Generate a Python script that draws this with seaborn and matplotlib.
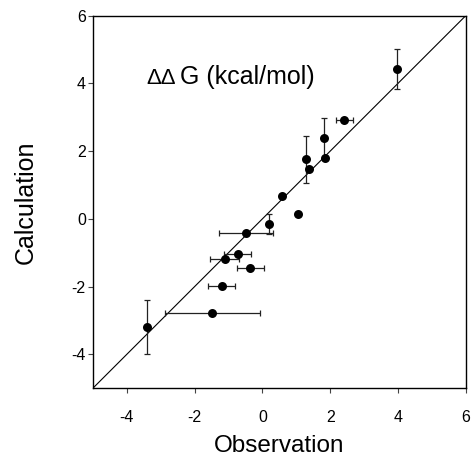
import numpy as np
import pandas as pd
import matplotlib
matplotlib.use("Agg")
import matplotlib.pyplot as plt
import seaborn as sns

# Data
observation = [3.97, 2.41, 1.81, 1.85, 1.28, 1.37, 0.59, 1.06, 0.20, -0.48,
               -0.72, -1.11, -0.35, -1.20, -1.47, -3.41]
calculation = [4.42, 2.91, 2.38, 1.80, 1.76, 1.46, 0.69, 0.13, -0.16, -0.42,
               -1.03, -1.19, -1.45, -1.98, -2.79, -3.20]
obs_err = [0, 0.25, 0, 0, 0, 0, 0, 0, 0, 0.80,
           0.40, 0.42, 0.40, 0.39, 1.40, 0]
calc_err = [0.60, 0, 0.60, 0, 0.70, 0, 0, 0, 0.30, 0,
            0, 0, 0, 0, 0, 0.80]
ticks = [-4, -2, 0, 2, 4, 6]

df = pd.DataFrame({"Observation": observation, "Calculation": calculation,
                   "xerr": obs_err, "yerr": calc_err})

sns.set_theme(style="white")
plt.rcParams["font.family"] = ["Liberation Sans", "DejaVu Sans"]

fig = plt.figure(figsize=(4.71, 4.59), dpi=100)
ax = fig.add_axes([0.197, 0.154, 0.792, 0.812])

lims = (-5, 6)
ax.plot(lims, lims, color="black", lw=0.8, zorder=1)

dx = df[df["xerr"] > 0]
ax.errorbar(dx["Observation"], dx["Calculation"], xerr=dx["xerr"], fmt="none",
            ecolor="#222222", elinewidth=0.9, capsize=2.5, capthick=0.9, zorder=2)
dy = df[df["yerr"] > 0]
ax.errorbar(dy["Observation"], dy["Calculation"], yerr=dy["yerr"], fmt="none",
            ecolor="#222222", elinewidth=0.9, capsize=2.5, capthick=0.9, zorder=2)

sns.scatterplot(data=df, x="Observation", y="Calculation", ax=ax, color="black",
                s=42, edgecolor="black", linewidth=0, zorder=3)

ax.set_xlim(*lims)
ax.set_ylim(*lims)
ax.set_xticks(ticks)
ax.set_yticks(ticks)
ax.set_xticklabels([str(t) for t in ticks])
ax.set_yticklabels([str(t) for t in ticks])
ax.tick_params(axis="both", which="major", direction="out", length=3.5, width=0.8,
               color="#444444", labelsize=11.5, labelcolor="black",
               bottom=True, left=True, top=False, right=False)
ax.tick_params(axis="x", pad=12)
ax.tick_params(axis="y", pad=1.5)
for sp in ax.spines.values():
    sp.set_color("black")
    sp.set_linewidth(1.0)
    sp.set_visible(True)

ax.set_xlabel("Observation", fontsize=17.5, labelpad=7, color="black")
ax.set_ylabel("Calculation", fontsize=18, labelpad=24, color="black")

ax.text(-3.41, 3.97, "ΔΔ", fontsize=16, ha="left", va="baseline", color="black")
ax.text(-2.43, 3.97, "G (kcal/mol)", fontsize=18, ha="left", va="baseline", color="black")

fig.savefig("out.png", dpi=100)
